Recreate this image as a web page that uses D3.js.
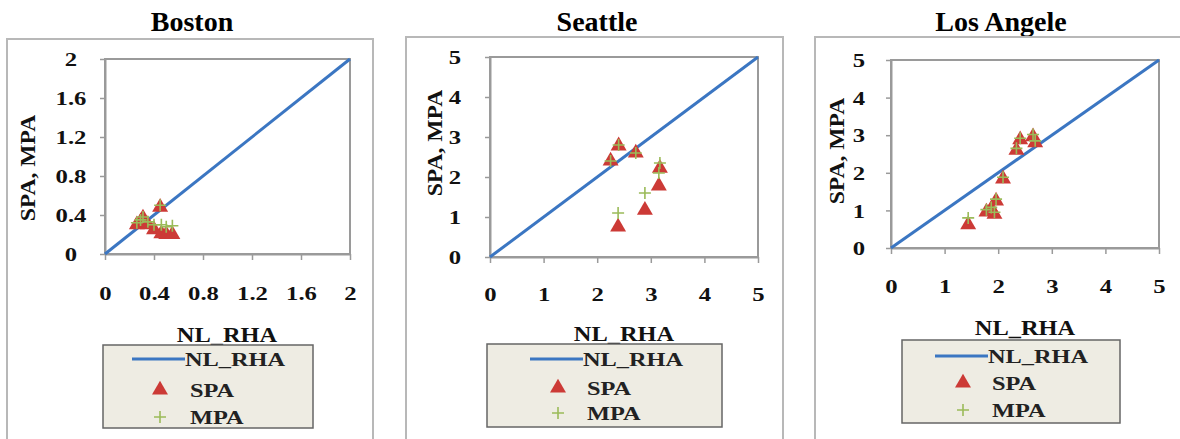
<!DOCTYPE html>
<html>
<head>
<meta charset="utf-8">
<script src="https://cdn.jsdelivr.net/npm/d3@7"></script>
<style>
  html, body { margin: 0; padding: 0; background: #fff; }
  svg { display: block; }
</style>
</head>
<body>
<svg id="chart" width="1180" height="439"></svg>
<script>
// ---- data ----
const cityNames   = ["Boston", "Seattle", "Los Angele"];
const seriesNames = ["NL_RHA", "SPA", "MPA"];
const xAxisTitle  = "NL_RHA";
const yAxisTitle  = "SPA, MPA";

// Boston
const bostonNL  = [0.26, 0.29, 0.31, 0.35, 0.40, 0.45, 0.46, 0.50, 0.55];
const bostonSPA = [0.30, 0.33, 0.37, 0.30, 0.25, 0.48, 0.21, 0.20, 0.20];
const bostonMPA = [0.32, 0.35, 0.38, 0.33, 0.30, 0.50, 0.30, 0.28, 0.29];
const bostonTicks      = [0, 0.4, 0.8, 1.2, 1.6, 2];
const bostonTickLabels = ["0", "0.4", "0.8", "1.2", "1.6", "2"];

// Seattle
const seattleNL  = [2.25, 2.40, 2.72, 3.17, 3.15, 2.89, 2.39];
const seattleSPA = [2.40, 2.78, 2.60, 2.22, 1.78, 1.17, 0.75];
const seattleMPA = [2.40, 2.80, 2.60, 2.35, 2.10, 1.60, 1.10];
const seattleTicks      = [0, 1, 2, 3, 4, 5];
const seattleTickLabels = ["0", "1", "2", "3", "4", "5"];

// Los Angeles
const laNL  = [1.44, 1.78, 1.87, 1.93, 1.96, 2.09, 2.34, 2.41, 2.65, 2.69];
const laSPA = [0.62, 0.96, 1.04, 0.90, 1.25, 1.84, 2.60, 2.88, 2.96, 2.80];
const laMPA = [0.80, 1.02, 1.08, 0.95, 1.30, 1.88, 2.65, 2.92, 3.02, 2.85];
const laTicks      = [0, 1, 2, 3, 4, 5];
const laTickLabels = ["0", "1", "2", "3", "4", "5"];

// ---- styling ----
const FONT = "'Liberation Serif','Times New Roman',serif";
const LINE_COLOR = "#3b76c2";
const SPA_COLOR  = "#cc3a36";
const MPA_COLOR  = "#9bbb59";
const AXIS_COLOR = "#9a9a9a";

const svg = d3.select("#chart");

// widen text along its own direction (the figure uses a broad bold serif)
function stretch(sel, k) {
  sel.each(function () {
    const len = this.getComputedTextLength();
    d3.select(this).attr("textLength", len * k).attr("lengthAdjust", "spacingAndGlyphs");
  });
}

const panels = [
  { title: cityNames[0], nl: bostonNL, spa: bostonSPA, mpa: bostonMPA,
    ticks: bostonTicks, labels: bostonTickLabels,
    frame: { l: 7, t: 39, r: 373 }, plot: { l: 105, t: 59, r: 350, b: 254 },
    titleX: 192, yLabelX: 71, xLabelY: 300, yTitle: [35, 168], xTitle: [227, 342],
    legend: { l: 103, t: 345, r: 313, b: 428, line: [132, 185], sym: 160, text: 190, rows: [359, 390, 417] } },
  { title: cityNames[1], nl: seattleNL, spa: seattleSPA, mpa: seattleMPA,
    ticks: seattleTicks, labels: seattleTickLabels,
    frame: { l: 406, t: 37, r: 783 }, plot: { l: 490, t: 57, r: 758, b: 257 },
    titleX: 597, yLabelX: 455, xLabelY: 301, yTitle: [442, 143], xTitle: [624, 341],
    legend: { l: 487, t: 344, r: 722, b: 427, line: [530, 583], sym: 558, text: 587, rows: [359, 388, 413] } },
  { title: cityNames[2], nl: laNL, spa: laSPA, mpa: laMPA,
    ticks: laTicks, labels: laTickLabels,
    frame: { l: 815, t: 37, r: 1185 }, plot: { l: 891, t: 60, r: 1159, b: 248 },
    titleX: 1001, yLabelX: 859, xLabelY: 293, yTitle: [844, 151], xTitle: [1025, 335],
    legend: { l: 902, t: 340, r: 1120, b: 423, line: [935, 988], sym: 963, text: 992, rows: [356, 383, 410] } }
];

panels.forEach(p => {
  const g = svg.append("g");
  const max = p.ticks[p.ticks.length - 1];
  const x = d3.scaleLinear().domain([0, max]).range([p.plot.l, p.plot.r]);
  const y = d3.scaleLinear().domain([0, max]).range([p.plot.b, p.plot.t]);

  // title
  g.append("text")
    .attr("x", p.titleX).attr("y", 31)
    .attr("text-anchor", "middle")
    .attr("font-family", FONT).attr("font-weight", "bold").attr("font-size", 28)
    .attr("fill", "#000")
    .text(p.title);

  // outer chart frame
  g.append("rect")
    .attr("x", p.frame.l).attr("y", p.frame.t)
    .attr("width", p.frame.r - p.frame.l).attr("height", 460 - p.frame.t)
    .attr("fill", "#fff").attr("stroke", "#b8b8b8").attr("stroke-width", 2);

  // plot area border
  g.append("rect")
    .attr("x", p.plot.l).attr("y", p.plot.t)
    .attr("width", p.plot.r - p.plot.l).attr("height", p.plot.b - p.plot.t)
    .attr("fill", "none").attr("stroke", AXIS_COLOR).attr("stroke-width", 2);

  // x axis
  const xa = g.append("g")
    .attr("transform", `translate(0,${p.plot.b})`)
    .call(d3.axisBottom(x).tickValues(p.ticks).tickFormat((d, i) => p.labels[i]).tickSizeOuter(0).tickSizeInner(6));
  xa.select(".domain").attr("stroke", AXIS_COLOR).attr("stroke-width", 2);
  xa.selectAll(".tick line").attr("stroke", AXIS_COLOR).attr("stroke-width", 1.5);
  xa.selectAll(".tick text")
    .attr("y", p.xLabelY - p.plot.b).attr("dy", null)
    .attr("font-family", FONT).attr("font-weight", "bold").attr("font-size", 19)
    .attr("fill", "#111")
    .call(stretch, 1.3);

  // y axis
  const ya = g.append("g")
    .attr("transform", `translate(${p.plot.l},0)`)
    .call(d3.axisLeft(y).tickValues(p.ticks).tickFormat((d, i) => p.labels[i]).tickSizeOuter(0).tickSizeInner(5));
  ya.select(".domain").attr("stroke", AXIS_COLOR).attr("stroke-width", 2);
  ya.selectAll(".tick line").attr("stroke", AXIS_COLOR).attr("stroke-width", 1.5);
  ya.selectAll(".tick text")
    .attr("x", p.yLabelX - p.plot.l).attr("dy", "0.35em")
    .attr("text-anchor", "middle")
    .attr("font-family", FONT).attr("font-weight", "bold").attr("font-size", 19)
    .attr("fill", "#111")
    .call(stretch, 1.3);

  // 1:1 reference line
  const ref = [0, max];
  g.append("path")
    .datum(ref)
    .attr("d", d3.line().x(d => x(d)).y(d => y(d)))
    .attr("fill", "none").attr("stroke", LINE_COLOR).attr("stroke-width", 3);

  // SPA markers
  const tri = d3.symbol().type(d3.symbolTriangle).size(110);
  g.append("g").selectAll("path")
    .data(p.nl.map((v, i) => [v, p.spa[i]]))
    .join("path")
    .attr("transform", d => `translate(${x(d[0])},${y(d[1])})`)
    .attr("d", tri)
    .attr("fill", SPA_COLOR);

  // MPA markers
  g.append("g").selectAll("path")
    .data(p.nl.map((v, i) => [v, p.mpa[i]]))
    .join("path")
    .attr("transform", d => `translate(${x(d[0])},${y(d[1])})`)
    .attr("d", "M-6,0H6M0,-6V6")
    .attr("stroke", MPA_COLOR).attr("stroke-width", 1.6).attr("fill", "none");

  // axis titles
  g.append("text")
    .attr("transform", `translate(${p.yTitle[0]},${p.yTitle[1]}) rotate(-90)`)
    .attr("text-anchor", "middle")
    .attr("font-family", FONT).attr("font-weight", "bold").attr("font-size", 20)
    .attr("fill", "#111")
    .text(yAxisTitle)
    .call(stretch, 1.18);

  g.append("text")
    .attr("x", p.xTitle[0]).attr("y", p.xTitle[1])
    .attr("text-anchor", "middle")
    .attr("font-family", FONT).attr("font-weight", "bold").attr("font-size", 20)
    .attr("fill", "#111")
    .text(xAxisTitle)
    .call(stretch, 1.22);

  // legend
  const L = p.legend;
  g.append("rect")
    .attr("x", L.l).attr("y", L.t)
    .attr("width", L.r - L.l).attr("height", L.b - L.t)
    .attr("fill", "#eeece3").attr("stroke", "#666").attr("stroke-width", 1.5);

  g.append("line")
    .attr("x1", L.line[0]).attr("x2", L.line[1])
    .attr("y1", L.rows[0]).attr("y2", L.rows[0])
    .attr("stroke", LINE_COLOR).attr("stroke-width", 3);

  g.append("path")
    .attr("transform", `translate(${L.sym},${L.rows[1]})`)
    .attr("d", tri)
    .attr("fill", SPA_COLOR);

  g.append("path")
    .attr("transform", `translate(${L.sym},${L.rows[2]})`)
    .attr("d", "M-6,0H6M0,-6V6")
    .attr("stroke", MPA_COLOR).attr("stroke-width", 1.6);

  const textX = [L.line[1], L.text, L.text];
  seriesNames.forEach((name, i) => {
    g.append("text")
      .attr("x", textX[i]).attr("y", L.rows[i]).attr("dy", "0.35em")
      .attr("font-family", FONT).attr("font-weight", "bold").attr("font-size", 19)
      .attr("fill", "#222")
      .text(name)
      .call(stretch, 1.28);
  });
});
</script>
</body>
</html>
